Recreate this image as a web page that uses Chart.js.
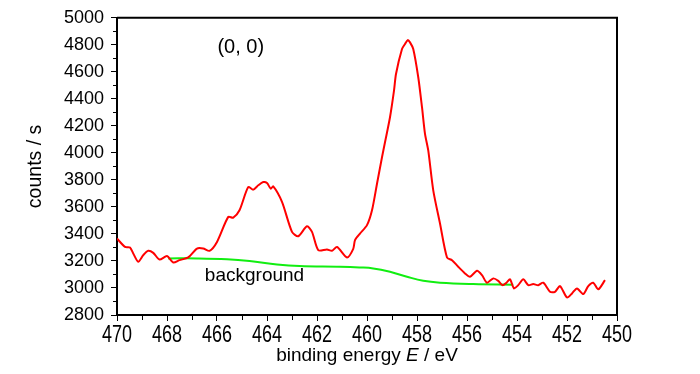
<!DOCTYPE html>
<html>
<head>
<meta charset="utf-8">
<script src="https://cdn.jsdelivr.net/npm/chart.js@4/dist/chart.umd.min.js"></script>
<style>
  body { margin: 0; background: #fff; }
</style>
</head>
<body>
<canvas id="xps" width="700" height="374"></canvas>
<script>
// measured spectrum, binding energy (eV) vs counts / s
var ENERGY = [470.0, 469.68, 469.48, 469.35, 469.15, 468.95, 468.75, 468.55, 468.3, 468.0,
    467.75, 467.5, 467.15, 466.8, 466.55, 466.3, 466.0, 465.55, 465.35, 465.1,
    464.75, 464.55, 464.35, 464.15, 464.0, 463.85, 463.75, 463.4, 463.0, 462.75,
    462.4, 462.2, 461.95, 461.6, 461.4, 461.2, 460.8, 460.55, 460.48, 460.28,
    460.0, 459.8, 459.6, 459.4, 459.28, 459.08, 458.92, 458.84, 458.6,
    458.48, 458.37, 458.28, 458.15, 457.95, 457.8, 457.68, 457.55, 457.35,
    457.08, 456.8, 456.6, 456.35, 456.08, 455.88, 455.6, 455.4,
    455.2, 454.95, 454.75, 454.58, 454.42, 454.28, 454.12, 453.95, 453.75, 453.55,
    453.35, 453.15, 452.95, 452.68, 452.48, 452.28, 452.0, 451.8, 451.6, 451.35,
    451.15, 450.95, 450.75, 450.48];
var COUNTS = [3366, 3304, 3300, 3255, 3194, 3243, 3275, 3260, 3211, 3236,
    3189, 3206, 3226, 3292, 3292, 3275, 3341, 3526, 3521, 3575,
    3747, 3728, 3760, 3784, 3777, 3735, 3752, 3637, 3415, 3383,
    3457, 3415, 3280, 3285, 3275, 3304, 3226, 3290, 3354, 3403,
    3465, 3575, 3772, 3968, 4079, 4264, 4461, 4584, 4769,
    4806, 4835, 4818, 4769, 4560, 4338, 4141, 4018, 3723,
    3477, 3226, 3206, 3157, 3108, 3083, 3127, 3095,
    3039, 3071, 3053, 3021, 3039, 3064, 2997, 3021, 3064, 3021,
    3029, 3021, 3039, 2972, 2972, 3014, 2930, 2960, 2997, 2955,
    3014, 3039, 2990, 3058];

// fitted background
var BG_ENERGY = [467.95, 466.8, 465.6, 464.7, 463.6, 462.7, 461.08, 460.3, 459.75, 459.08,
    458.4, 457.75, 457.08, 455.75, 454.15];
var BG_COUNTS = [3219, 3219, 3213, 3200, 3174, 3162, 3157, 3152, 3145, 3120,
    3083, 3053, 3039, 3029, 3024];

var X_MIN = 450, X_MAX = 470;
var Y_MIN = 2800, Y_MAX = 5000;

function toPoints(xs, ys) {
    var pts = [];
    for (var i = 0; i < xs.length; i++) {
        pts.push({x: xs[i], y: ys[i]});
    }
    return pts;
}

var SANS = "'Liberation Sans', Arial, sans-serif";

// frame, minor ticks, stretched x labels and the text
var extras = {
    id: 'extras',
    afterDraw: function(chart) {
        var ctx = chart.ctx;
        var a = chart.chartArea;
        var xs = chart.scales.x, ys = chart.scales.y;
        ctx.save();
        ctx.strokeStyle = '#000';
        ctx.lineWidth = 2;
        ctx.beginPath();
        ctx.moveTo(a.left, a.top);
        ctx.lineTo(a.right, a.top);
        ctx.lineTo(a.right, a.bottom);
        ctx.stroke();

        ctx.lineWidth = 1;
        ctx.beginPath();
        for (var v = X_MIN + 1; v < X_MAX; v += 2) {
            var px = Math.round(xs.getPixelForValue(v)) + 0.5;
            ctx.moveTo(px, a.bottom);
            ctx.lineTo(px, a.bottom + 5);
        }
        for (var w = Y_MIN + 100; w < Y_MAX; w += 200) {
            var py = Math.round(ys.getPixelForValue(w)) + 0.5;
            ctx.moveTo(a.left, py);
            ctx.lineTo(a.left - 4, py);
        }
        ctx.stroke();

        ctx.fillStyle = '#000';
        ctx.textAlign = 'center';
        ctx.textBaseline = 'middle';
        ctx.font = '18px ' + SANS;
        xs.ticks.forEach(function(t) {
            ctx.save();
            ctx.translate(xs.getPixelForValue(t.value), a.bottom + 21);
            ctx.scale(1, 1.3);
            ctx.fillText(String(t.value), 0, 0);
            ctx.restore();
        });

        ctx.font = '20px ' + SANS;
        ctx.fillText('(0, 0)', xs.getPixelForValue(465.05), ys.getPixelForValue(4780));

        ctx.font = '19px ' + SANS;
        ctx.fillText('background', xs.getPixelForValue(464.5), ys.getPixelForValue(3090));

        // x title with italic E
        var parts = [['binding energy ', ''], ['E', 'italic '], [' / eV', '']];
        var total = 0;
        parts.forEach(function(p) {
            ctx.font = p[1] + '19px ' + SANS;
            total += ctx.measureText(p[0]).width;
        });
        var x0 = (a.left + a.right) / 2 - total / 2;
        ctx.textAlign = 'left';
        parts.forEach(function(p) {
            ctx.font = p[1] + '19px ' + SANS;
            ctx.fillText(p[0], x0, 356);
            x0 += ctx.measureText(p[0]).width;
        });

        ctx.translate(36, (a.top + a.bottom) / 2);
        ctx.rotate(-Math.PI / 2);
        ctx.textAlign = 'center';
        ctx.font = '19.5px ' + SANS;
        ctx.fillText('counts / s', 0, 0);
        ctx.restore();
    }
};

var chart = new Chart(document.getElementById('xps'), {
    type: 'scatter',
    data: {
        datasets: [{
            label: 'spectrum',
            data: toPoints(ENERGY, COUNTS),
            showLine: true,
            borderColor: '#ff0000',
            borderWidth: 2,
            pointRadius: 0,
            tension: 0.25
        }, {
            label: 'background',
            data: toPoints(BG_ENERGY, BG_COUNTS),
            showLine: true,
            borderColor: '#11ee11',
            borderWidth: 2,
            pointRadius: 0,
            tension: 0.4
        }]
    },
    options: {
        responsive: false,
        animation: false,
        devicePixelRatio: 1,
        layout: {padding: {top: 16, right: 83, left: 0, bottom: 0}},
        plugins: {legend: {display: false}, tooltip: {enabled: false}},
        scales: {
            x: {
                type: 'linear',
                reverse: true,
                min: X_MIN,
                max: X_MAX,
                ticks: {stepSize: 2, display: false},
                grid: {drawOnChartArea: false, tickLength: 6, tickColor: '#000', tickWidth: 1},
                border: {color: '#000', width: 2},
                afterFit: function(s) { s.height = 59; }
            },
            y: {
                min: Y_MIN,
                max: Y_MAX,
                ticks: {
                    stepSize: 200,
                    color: '#000',
                    font: {family: SANS, size: 18},
                    padding: 7,
                    callback: function(v) { return String(v); }
                },
                grid: {drawOnChartArea: false, tickLength: 6, tickColor: '#000', tickWidth: 1},
                border: {color: '#000', width: 2},
                afterFit: function(s) { s.width = 117; }
            }
        }
    },
    plugins: [extras]
});
</script>
</body>
</html>
